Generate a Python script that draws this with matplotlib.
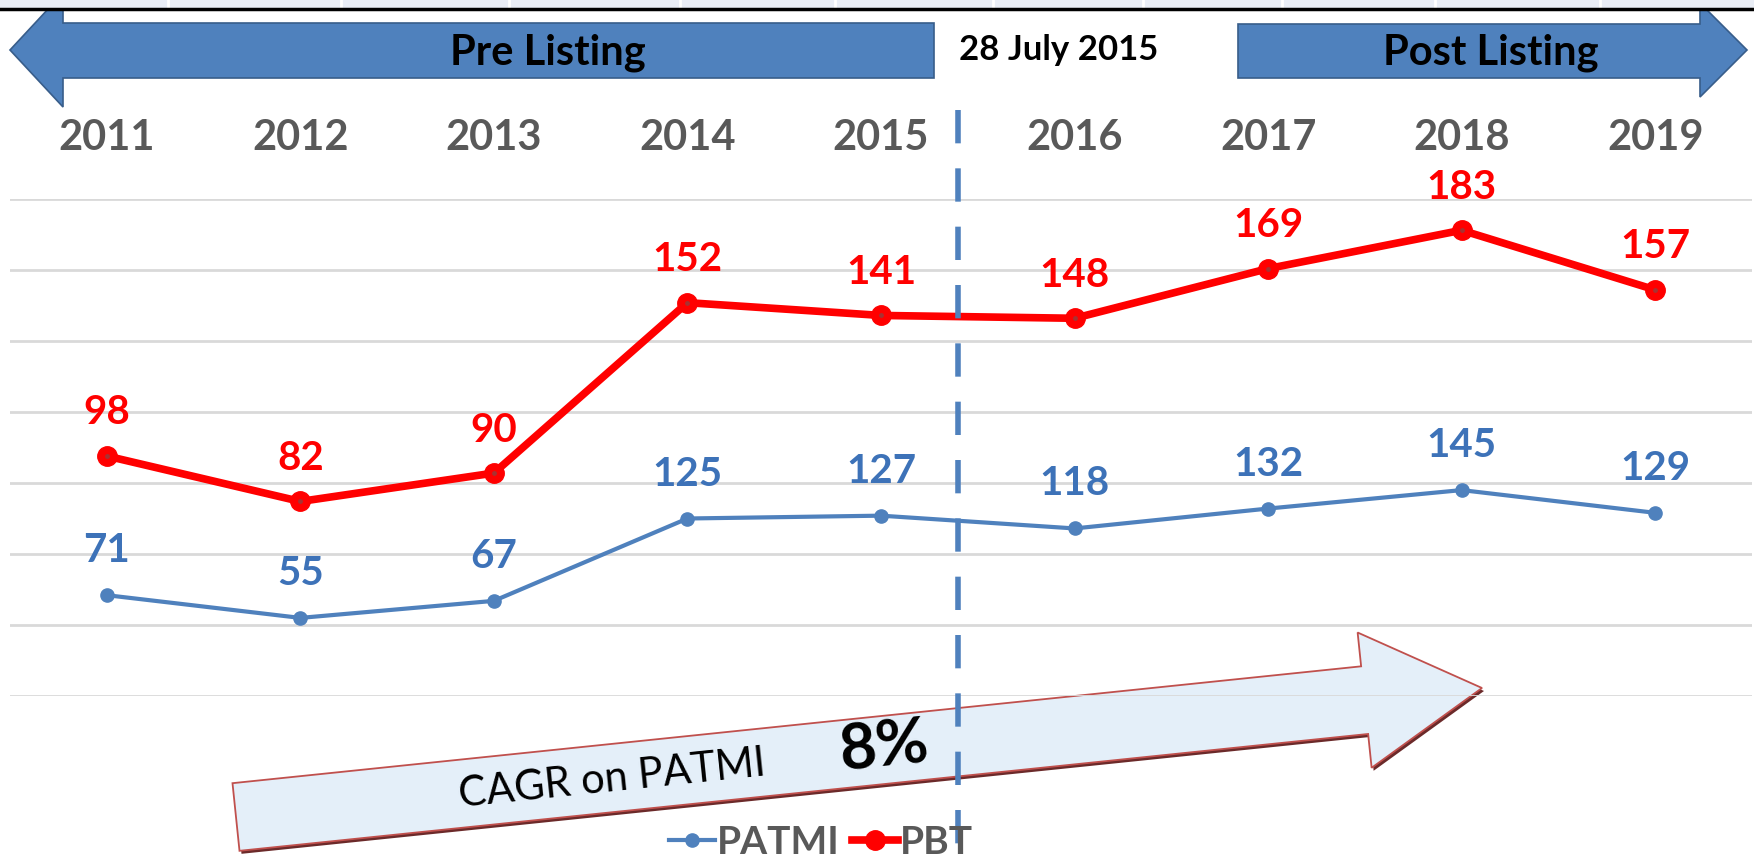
import numpy as np
import matplotlib
matplotlib.use("Agg")
import matplotlib.pyplot as plt
from matplotlib.patches import Polygon, Rectangle

plt.rcParams['font.family'] = ['Lato', 'DejaVu Sans']

years = ['2011', '2012', '2013', '2014', '2015', '2016', '2017', '2018', '2019']
patmi = [71, 55, 67, 125, 127, 118, 132, 145, 129]
pbt = [98, 82, 90, 152, 141, 148, 169, 183, 157]
listing_pos = 4.4      # 28 July 2015, between 2015 and 2016
cagr_text = '8%'

BLUE = '#4f81bd'
RED = '#ff0000'

W, H = 1754, 859
fig = plt.figure(figsize=(W / 100, H / 100), dpi=100)

# decoration layer in pixel coords (y down)
deco = fig.add_axes([0, 0, 1, 1], zorder=0)
deco.set_xlim(0, W)
deco.set_ylim(H, 0)
deco.axis('off')

# main chart (stacked lines, like the excel one)
ax = fig.add_axes([10 / W, 1 - 696 / H, 1742 / W, (696 - 199) / H], zorder=1)
ax.patch.set_alpha(0)
x = np.arange(len(years))
stack_patmi = np.array(patmi)
stack_pbt = stack_patmi + np.array(pbt)

ax.plot(x, stack_patmi, color=BLUE, lw=3, marker='o', ms=9.5, label='PATMI', zorder=3)
ax.plot(x, stack_pbt, color=RED, lw=5.5, marker='o', ms=14, label='PBT', zorder=3)
ax.plot(x, stack_pbt, 'o', color='#a83232', ms=2.5, zorder=4)

for i in range(len(years)):
    ax.annotate(str(pbt[i]), (x[i], stack_pbt[i]), xytext=(0, 31), textcoords='offset points',
                ha='center', va='center', fontsize=29, fontweight='bold', color=RED)
    ax.annotate(str(patmi[i]), (x[i], stack_patmi[i]), xytext=(0, 32), textcoords='offset points',
                ha='center', va='center', fontsize=29, fontweight='bold', color='#3d72b8')

ax.set_xlim(-0.5, len(years) - 0.5)
ax.set_ylim(0, 350)
ax.set_yticks(range(0, 351, 50))
ax.set_yticklabels([])
ax.grid(axis='y', color='#d9d9d9', lw=2)
ax.set_axisbelow(True)
ax.xaxis.tick_top()
ax.set_xticks(x)
ax.set_xticklabels(years, fontsize=30, fontweight='bold', color='#595959')
ax.tick_params(axis='both', length=0)
ax.tick_params(axis='x', pad=30)
for s in ax.spines.values():
    s.set_visible(False)

# listing date line, dashes start at the top
ax.plot([listing_pos, listing_pos], [1.179, -0.33], transform=ax.get_xaxis_transform(),
        clip_on=False, color=BLUE, lw=4, dashes=(6, 4.5), zorder=5)

leg = ax.legend(loc='center', bbox_to_anchor=(821 / W, 1 - 842 / H), bbox_transform=fig.transFigure,
                ncol=2, frameon=False, fontsize=28, handlelength=1.2, handletextpad=0.05,
                columnspacing=0.3, borderpad=0)
for t in leg.get_texts():
    t.set_color('#595959')
    t.set_fontweight('bold')

# top strip from the sheet
deco.add_patch(Rectangle((0, 0), W, 8, color='#e9edf5', zorder=5))
for sx in [168, 341, 509, 680, 835, 993, 1143, 1282, 1435, 1600]:
    deco.plot([sx, sx], [0, 7], color='white', lw=2, zorder=6)
deco.plot([0, W], [9, 9], color='black', lw=2.5, zorder=7)

# pre / post listing arrows
pre = [(934, 23), (63, 23), (63, -7), (10, 50), (63, 107), (63, 78), (934, 78)]
post = [(1238, 24), (1700, 24), (1700, 3), (1747, 50), (1700, 97), (1700, 78), (1238, 78)]
for pts in (pre, post):
    deco.add_patch(Polygon(pts, closed=True, facecolor=BLUE, edgecolor='#385d8a', lw=1.2, zorder=2))
deco.text(548, 53, 'Pre Listing', ha='center', va='center', fontsize=30, fontweight='bold', color='black', zorder=3)
deco.text(1491, 53, 'Post Listing', ha='center', va='center', fontsize=30, fontweight='bold', color='black', zorder=3)
deco.text(1059, 50, '28 July 2015', ha='center', va='center', fontsize=25, fontweight='bold', color='black', zorder=3)

# CAGR block arrow
tail = np.array([236.0, 817.0])
tip = np.array([1482.0, 688.0])
u = (tip - tail) / np.linalg.norm(tip - tail)
n = np.array([u[1], -u[0]])
base = tip - u * 118
body, head = 34, 68
arrow = [tail + n * body, base + n * body, base + n * head, tip,
         base - n * head, base - n * body, tail - n * body]
shadow = [p + np.array([2, 3]) for p in arrow]
deco.add_patch(Polygon(shadow, closed=True, facecolor='#6b2a2a', edgecolor='none', zorder=1))
deco.add_patch(Polygon(arrow, closed=True, facecolor='#e4eff9', edgecolor='#c0504d', lw=1.3, zorder=1.5))
ang = np.degrees(np.arctan2(-(tip - tail)[1], (tip - tail)[0]))
deco.text(612, 779, 'CAGR on PATMI', ha='center', va='center', rotation=ang, rotation_mode='anchor',
          fontsize=30, color='black', zorder=2)
deco.text(884, 747, cagr_text, ha='center', va='center', rotation=ang, rotation_mode='anchor',
          fontsize=46, fontweight='bold', color='black', zorder=2)

fig.savefig('out.png', dpi=100)
